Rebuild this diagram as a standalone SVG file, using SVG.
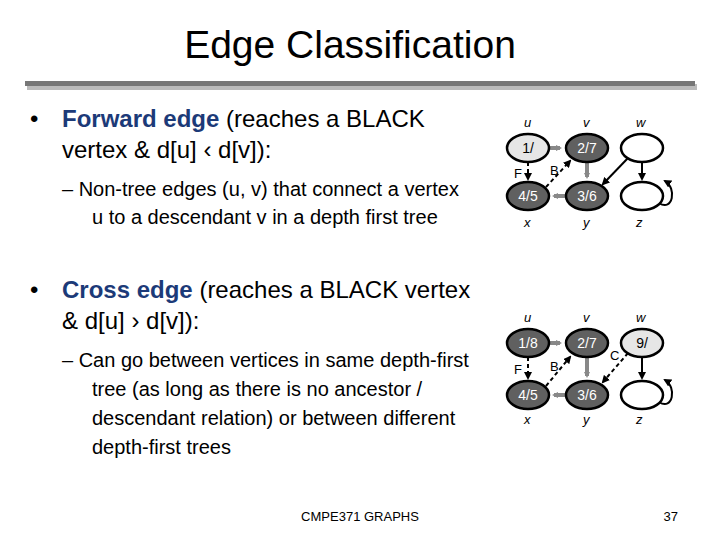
<svg xmlns="http://www.w3.org/2000/svg" width="720" height="540" viewBox="0 0 720 540">
<defs>
<style>
text{font-family:"Liberation Sans",Arial,sans-serif}
.t{font-size:24px;fill:#000}
.b{font-weight:bold;fill:#1c3a78}
.s{font-size:20px}
.lab{font-size:13px;font-style:italic}
.nt{font-size:14px;fill:#fff;text-anchor:middle}
.ntd{font-size:14px;fill:#000;text-anchor:middle}
.dk{fill:#606060;stroke:#000;stroke-width:2.5}
.gr{fill:#e6e6e6;stroke:#000;stroke-width:2.5}
.wh{fill:#fff;stroke:#000;stroke-width:2.5}
.tree{stroke:#888;stroke-width:4;fill:none}
.ed{stroke:#000;stroke-width:2;fill:none}
.da{stroke:#000;stroke-width:2;fill:none;stroke-dasharray:4,3}
.el{font-size:13px}
</style>
<marker id="ag" markerWidth="6" markerHeight="6" refX="4" refY="3" orient="auto" markerUnits="userSpaceOnUse"><path d="M0,0L6,3L0,6z" fill="#888"/></marker>
<marker id="ak" markerWidth="8" markerHeight="8" refX="6" refY="4" orient="auto" markerUnits="userSpaceOnUse"><path d="M0,0L8,4L0,8z" fill="#000"/></marker>
</defs>
<rect width="720" height="540" fill="#fff"/>
<text x="350" y="58" font-size="39" text-anchor="middle">Edge Classification</text>
<rect x="27" y="84" width="670" height="6" fill="#bbb"/>
<rect x="25" y="81" width="670" height="5" fill="#777"/>
<text x="30" y="127" class="t">•</text>
<text x="62" y="127" class="t"><tspan class="b">Forward edge</tspan> (reaches a BLACK</text>
<text x="62" y="158" class="t">vertex &amp; d[u] ‹ d[v]):</text>
<text x="62" y="196" class="s">– Non-tree edges (u, v) that connect a vertex</text>
<text x="92" y="224" class="s">u to a descendant v in a depth first tree</text>
<text x="30" y="298" class="t">•</text>
<text x="62" y="298" class="t"><tspan class="b">Cross edge</tspan> (reaches a BLACK vertex</text>
<text x="62" y="329" class="t">&amp; d[u] › d[v]):</text>
<text x="62" y="367" class="s">– Can go between vertices in same depth-first</text>
<text x="92" y="396" class="s">tree (as long as there is no ancestor /</text>
<text x="92" y="425" class="s">descendant relation) or between different</text>
<text x="92" y="454" class="s">depth-first trees</text>
<text x="360" y="521" font-size="13" text-anchor="middle">CMPE371 GRAPHS</text>
<text x="678" y="521" font-size="13" text-anchor="end">37</text>

<g id="connectors">
<line class="tree" x1="550" y1="148" x2="560" y2="148" marker-end="url(#ag)"/>
<line class="tree" x1="587" y1="162" x2="587" y2="177" marker-end="url(#ag)"/>
<line class="tree" x1="565" y1="196" x2="554" y2="196" marker-end="url(#ag)"/>
<line class="da" x1="528" y1="162" x2="528" y2="179" marker-end="url(#ak)"/>
<line class="da" x1="546" y1="187" x2="570" y2="161" marker-end="url(#ak)"/>
<line class="ed" x1="628" y1="158" x2="603" y2="184" marker-end="url(#ak)"/>
<line class="ed" x1="642" y1="162" x2="642" y2="179" marker-end="url(#ak)"/>
<path class="ed" d="M659,203 C673,212 677,188 665,181" marker-end="url(#ak)"/>
<text x="514" y="178" class="el">F</text>
<text x="550" y="175" class="el">B</text>

<line class="tree" x1="550" y1="343" x2="560" y2="343" marker-end="url(#ag)"/>
<line class="tree" x1="587" y1="357" x2="587" y2="376" marker-end="url(#ag)"/>
<line class="tree" x1="565" y1="395" x2="554" y2="395" marker-end="url(#ag)"/>
<line class="da" x1="528" y1="357" x2="528" y2="378" marker-end="url(#ak)"/>
<line class="da" x1="546" y1="386" x2="570" y2="357" marker-end="url(#ak)"/>
<line class="da" x1="628" y1="353" x2="603" y2="382" marker-end="url(#ak)"/>
<line class="ed" x1="642" y1="357" x2="642" y2="378" marker-end="url(#ak)"/>
<path class="ed" d="M659,402 C673,411 677,387 665,380" marker-end="url(#ak)"/>
<text x="514" y="374" class="el">F</text>
<text x="550" y="371" class="el">B</text>
<text x="610" y="360" class="el">C</text>
</g>

<g id="labels1">
<text x="524" y="127" class="lab">u</text><text x="583" y="127" class="lab">v</text><text x="636" y="127" class="lab">w</text>
<text x="524" y="227" class="lab">x</text><text x="583" y="227" class="lab">y</text><text x="636" y="227" class="lab">z</text>
<text x="524" y="322" class="lab">u</text><text x="583" y="322" class="lab">v</text><text x="636" y="322" class="lab">w</text>
<text x="524" y="424" class="lab">x</text><text x="583" y="424" class="lab">y</text><text x="636" y="424" class="lab">z</text>
</g>
<g id="u1"><ellipse class="gr" cx="528" cy="148" rx="21" ry="14"/><text x="528" y="153" class="ntd">1/</text></g>
<g id="v1"><ellipse class="dk" cx="587" cy="148" rx="21" ry="14"/><text x="587" y="153" class="nt">2/7</text></g>
<g id="w1"><ellipse class="wh" cx="642" cy="148" rx="21" ry="14"/></g>
<g id="x1"><ellipse class="dk" cx="528" cy="196" rx="21" ry="14"/><text x="528" y="201" class="nt">4/5</text></g>
<g id="y1"><ellipse class="dk" cx="587" cy="196" rx="21" ry="14"/><text x="587" y="201" class="nt">3/6</text></g>
<g id="z1"><ellipse class="wh" cx="642" cy="196" rx="21" ry="14"/></g>

<g id="u2"><ellipse class="dk" cx="528" cy="343" rx="21" ry="14"/><text x="528" y="348" class="nt">1/8</text></g>
<g id="v2"><ellipse class="dk" cx="587" cy="343" rx="21" ry="14"/><text x="587" y="348" class="nt">2/7</text></g>
<g id="w2"><ellipse class="gr" cx="642" cy="343" rx="21" ry="14"/><text x="642" y="348" class="ntd">9/</text></g>
<g id="x2"><ellipse class="dk" cx="528" cy="395" rx="21" ry="14"/><text x="528" y="400" class="nt">4/5</text></g>
<g id="y2"><ellipse class="dk" cx="587" cy="395" rx="21" ry="14"/><text x="587" y="400" class="nt">3/6</text></g>
<g id="z2"><ellipse class="wh" cx="642" cy="395" rx="21" ry="14"/></g>
</svg>
